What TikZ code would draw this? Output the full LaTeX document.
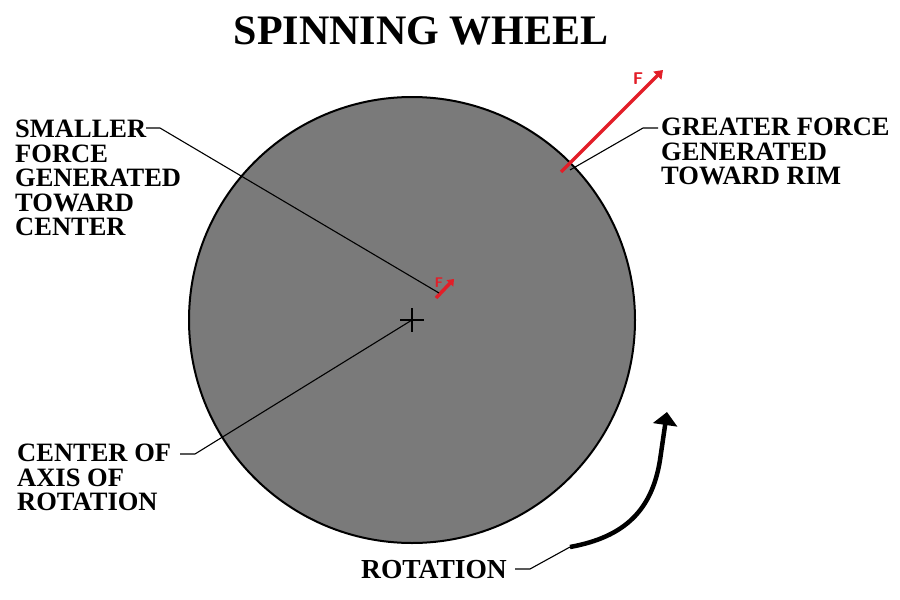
\documentclass[tikz,border=0pt]{standalone}
\usepackage{fontspec}
\setmainfont{Liberation Serif}
\usetikzlibrary{arrows.meta}
\definecolor{wheelgray}{RGB}{122,122,122}
\definecolor{forcered}{RGB}{226,30,40}
\tikzset{
  lbl/.style={inner sep=0pt, align=left, anchor=north west, font=\bfseries\fontsize{26.5}{24.5}\selectfont},
  leader/.style={line width=1.1pt, black},
  force/.style={line width=3.5pt, forcered, -{Triangle[width=11pt,length=8pt]}},
  smallforce/.style={line width=3.5pt, forcered, -{Triangle[width=9pt,length=6pt]}},
  flabel/.style={text=forcered, inner sep=0pt, font=\fontfamily{lmss}\bfseries\fontsize{17}{17}\selectfont}
}
\begin{document}
\begin{tikzpicture}[x=1pt,y=-1pt]
\useasboundingbox (0,0) rectangle (900,600);
% wheel
\node[circle, draw=black, line width=2pt, fill=wheelgray, minimum size=446pt, inner sep=0pt] (wheel) at (412,320) {};
\coordinate (ctr) at (412,320);
\draw[line width=2pt] (400,320) -- (424,320) (412,308) -- (412,332);
% title
\node[inner sep=0pt, font=\bfseries\fontsize{42}{42}\selectfont] (title) at (421,31) {SPINNING WHEEL};
% small force
\coordinate (sf0) at (436,298);
\coordinate (sf1) at (454,279);
\draw[smallforce] (sf0) -- (sf1);
\node[flabel, font=\fontfamily{lmss}\bfseries\fontsize{14}{14}\selectfont] (sfF) at (439,283) {F};
% big force
\coordinate (bf0) at (561,172);
\coordinate (bf1) at (663,70);
\draw[force] (bf0) -- (bf1);
\node[flabel] (bfF) at (638,79) {F};
% labels
\node[lbl] (smaller) at (15,120) {SMALLER\\FORCE\\GENERATED\\TOWARD\\CENTER};
\node[lbl] (greater) at (661,118) {GREATER FORCE\\GENERATED\\TOWARD RIM};
\node[lbl] (centerlbl) at (17,444) {CENTER OF\\AXIS OF\\ROTATION};
\node[inner sep=0pt, font=\bfseries\fontsize{27.5}{24.5}\selectfont] (rot) at (434,570) {ROTATION};
% leaders
\coordinate (l1a) at (146,128);
\coordinate (l1b) at (160,128);
\coordinate (l1c) at (439,293);
\draw[leader] (l1a) -- (l1b) -- (l1c);
\coordinate (l2a) at (658,128);
\coordinate (l2b) at (643,128);
\coordinate (l2c) at (570,170);
\draw[leader] (l2a) -- (l2b) -- (l2c);
\coordinate (l3a) at (180,454);
\coordinate (l3b) at (195,454);
\draw[leader] (l3a) -- (l3b) -- (ctr);
\coordinate (l4a) at (515,569);
\coordinate (l4b) at (530,569);
\coordinate (l4c) at (570,547);
\draw[leader] (l4a) -- (l4b) -- (l4c);
% rotation arrow
\coordinate (rtip) at (667,412);
\draw[line width=4.5pt, -{Triangle[width=24pt,length=13pt]}] (l4c) .. controls (625,537) and (652,510) .. (660,460) -- (rtip);
\end{tikzpicture}
\end{document}
